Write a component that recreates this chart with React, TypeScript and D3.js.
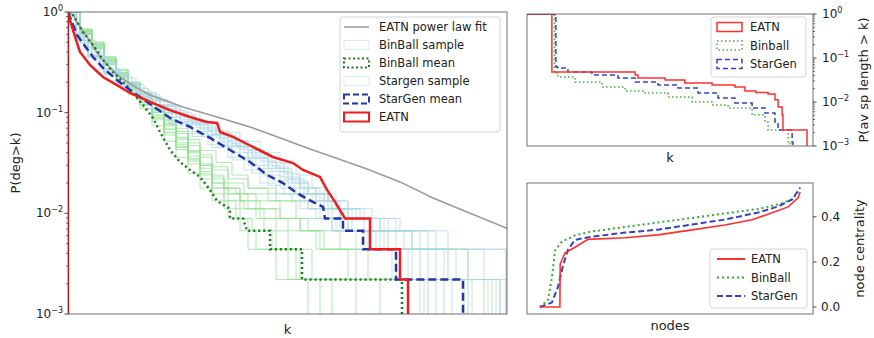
import * as d3 from 'd3';

type Pt = [number, number];

// ─────────────────────────────────────────────────────────────────────────────
// Left panel: degree distribution, P(deg > k)
// ─────────────────────────────────────────────────────────────────────────────

const powerLawFit: Pt[] = [
  [0, 1], [1.25, 0.934], [3, 0.71], [4.75, 0.565], [8, 0.357], [12.25, 0.237],
  [16.75, 0.18], [20.5, 0.15], [28.75, 0.114], [37.25, 0.0906], [45.5, 0.0721],
  [53.75, 0.0548], [60.5, 0.0436], [66.25, 0.0363], [74.75, 0.0276], [83, 0.0205],
  [91.25, 0.0142], [99.75, 0.0103], [109.75, 0.0071],
];

const eatnDegree: Pt[] = [
  [0, 1], [0.5, 0.833], [1.75, 0.565], [3, 0.401], [5.5, 0.298], [8.75, 0.226],
  [12.25, 0.188], [15.5, 0.157], [20.5, 0.128], [25.5, 0.106], [30.5, 0.0906],
  [34.75, 0.0809], [37.25, 0.0791], [38, 0.0643], [41.25, 0.0574], [46.25, 0.0456],
  [51.25, 0.0363], [56.25, 0.0316], [58.75, 0.027], [63, 0.023], [64.75, 0.0171],
  [66.75, 0.013], [69.25, 0.0089], [75.5, 0.0089], [75.5, 0.0044], [83, 0.0044],
  [83, 0.0022], [85, 0.0022], [85, 0.0005],
];

const binballMean: Pt[] = [
  [0, 1], [1.25, 0.934], [3.75, 0.633], [6.25, 0.47], [8.75, 0.334], [11.25, 0.254],
  [13.75, 0.202], [16.25, 0.157], [18.75, 0.119], [21.25, 0.0885], [23, 0.0643],
  [25.5, 0.0426], [28, 0.0324], [30.5, 0.027], [33, 0.023], [35.5, 0.0171],
  [37.25, 0.0133], [40.5, 0.0111], [40.5, 0.0089], [43.75, 0.0089], [44.75, 0.0067],
  [50.5, 0.0067], [50.5, 0.0044], [58.5, 0.0044], [58.5, 0.0022], [83.5, 0.0022],
  [83.5, 0.0005],
];

const stargenMean: Pt[] = [
  [0, 1], [1, 0.796], [2.25, 0.591], [4.25, 0.459], [6.25, 0.357], [8.75, 0.278],
  [12.25, 0.211], [15.5, 0.168], [20.5, 0.122], [25.5, 0.0885], [30.5, 0.0721],
  [35.5, 0.0561], [40.5, 0.0426], [45.5, 0.0324], [49.75, 0.0241], [53.75, 0.02],
  [57.25, 0.0159], [59.75, 0.0139], [63.75, 0.0116], [64.25, 0.0089], [68.75, 0.0089],
  [68.75, 0.0067], [73.75, 0.0067], [73.75, 0.0044], [82, 0.0044], [82, 0.0022],
  [98.75, 0.0022], [98.75, 0.0005],
];

const binballSamples: Pt[][] = [
  [[0, 1], [3, 0.68], [6, 0.5], [9, 0.36], [12, 0.27], [15, 0.2], [18, 0.155], [21, 0.12], [24, 0.09], [27, 0.07], [30, 0.054], [33, 0.042], [37, 0.032], [41, 0.024], [45, 0.0178], [50, 0.0156], [65, 0.0111], [70, 0.0067], [80, 0.0044], [95, 0.0022], [108, 0.0005]],
  [[0, 1], [3, 0.63], [6, 0.46], [9, 0.33], [12, 0.24], [15, 0.18], [18, 0.13], [21, 0.095], [24, 0.07], [27, 0.05], [30, 0.037], [33, 0.028], [36, 0.02], [40, 0.0156], [45, 0.0111], [52, 0.0089], [58, 0.0067], [64, 0.0044], [75, 0.0022], [85, 0.0005]],
  [[0, 1], [3, 0.6], [6, 0.43], [9, 0.3], [12, 0.21], [15, 0.15], [18, 0.11], [21, 0.075], [24, 0.052], [27, 0.036], [30, 0.025], [33, 0.0178], [36, 0.0133], [40, 0.0089], [45, 0.0044], [52, 0.0022], [60, 0.0005]],
  [[0, 1], [3, 0.65], [6, 0.48], [9, 0.34], [12, 0.25], [15, 0.19], [18, 0.14], [21, 0.105], [24, 0.078], [27, 0.057], [30, 0.042], [33, 0.031], [36, 0.024], [39, 0.0178], [43, 0.0133], [48, 0.0111], [53, 0.0089], [60, 0.0067], [68, 0.0044], [82, 0.0022], [100, 0.0005]],
  [[0, 1], [3, 0.62], [6, 0.45], [9, 0.32], [12, 0.23], [15, 0.17], [18, 0.125], [21, 0.09], [24, 0.063], [27, 0.045], [30, 0.033], [33, 0.024], [36, 0.0178], [40, 0.0133], [44, 0.0111], [49, 0.0067], [55, 0.0044], [61, 0.0022], [72, 0.0005]],
  [[0, 1], [3, 0.66], [6, 0.49], [9, 0.35], [12, 0.26], [15, 0.195], [18, 0.145], [21, 0.11], [24, 0.083], [27, 0.062], [30, 0.047], [33, 0.036], [36, 0.027], [40, 0.02], [44, 0.0156], [50, 0.0133], [57, 0.0089], [66, 0.0067], [74, 0.0044], [88, 0.0022], [104, 0.0005]],
  [[0, 1], [3, 0.61], [6, 0.44], [9, 0.31], [12, 0.22], [15, 0.16], [18, 0.12], [21, 0.085], [24, 0.06], [27, 0.043], [30, 0.031], [33, 0.022], [36, 0.0156], [39, 0.0111], [43, 0.0067], [47, 0.0044], [55, 0.0022], [66, 0.0005]],
  [[0, 1], [3, 0.64], [6, 0.47], [9, 0.335], [12, 0.245], [15, 0.185], [18, 0.135], [21, 0.1], [24, 0.074], [27, 0.054], [30, 0.04], [33, 0.03], [36, 0.022], [39, 0.0178], [43, 0.0133], [47, 0.0089], [55, 0.0067], [62, 0.0044], [70, 0.0022], [90, 0.0005]],
  [[0, 1], [3, 0.62], [6, 0.46], [9, 0.325], [12, 0.235], [15, 0.175], [18, 0.128], [21, 0.093], [24, 0.068], [27, 0.048], [30, 0.035], [33, 0.026], [36, 0.02], [39, 0.0156], [43, 0.0111], [48, 0.0089], [52, 0.0044], [58, 0.0022], [78, 0.0005]],
  [[0, 1], [3, 0.67], [6, 0.5], [9, 0.355], [12, 0.265], [15, 0.2], [18, 0.15], [21, 0.113], [24, 0.085], [27, 0.065], [30, 0.05], [33, 0.038], [36, 0.029], [40, 0.022], [45, 0.0178], [52, 0.0133], [60, 0.0111], [68, 0.0089], [78, 0.0067], [86, 0.0044], [100, 0.0022], [106, 0.0005]],
  [[0, 1], [3, 0.6], [6, 0.44], [9, 0.31], [12, 0.225], [15, 0.165], [18, 0.12], [21, 0.088], [24, 0.064], [27, 0.046], [30, 0.034], [33, 0.025], [36, 0.0178], [39, 0.0133], [42, 0.0089], [46, 0.0067], [51, 0.0044], [57, 0.0022], [63, 0.0005]],
  [[0, 1], [3, 0.65], [6, 0.475], [9, 0.34], [12, 0.25], [15, 0.185], [18, 0.138], [21, 0.102], [24, 0.076], [27, 0.056], [30, 0.041], [33, 0.03], [36, 0.023], [39, 0.0178], [42, 0.0156], [47, 0.0133], [53, 0.0089], [58, 0.0067], [63, 0.0044], [72, 0.0022], [94, 0.0005]],
];

const stargenSamples: Pt[][] = [
  [[0, 1], [2, 0.6], [5, 0.36], [9, 0.25], [13, 0.2], [18, 0.15], [23, 0.115], [28, 0.095], [33, 0.078], [38, 0.064], [43, 0.052], [48, 0.04], [53, 0.031], [57, 0.024], [61, 0.018], [64, 0.0133], [68, 0.0111], [72, 0.0089], [80, 0.0067], [92, 0.0044], [109.5, 0.0005]],
  [[0, 1], [2, 0.58], [4, 0.44], [8, 0.3], [12, 0.22], [17, 0.16], [22, 0.12], [27, 0.092], [32, 0.075], [37, 0.06], [42, 0.047], [47, 0.036], [52, 0.028], [56, 0.021], [60, 0.0156], [65, 0.0133], [70, 0.0089], [78, 0.0067], [88, 0.0044], [104, 0.0022], [108, 0.0005]],
  [[0, 1], [2, 0.55], [4, 0.42], [8, 0.27], [12, 0.2], [16, 0.15], [20, 0.11], [25, 0.08], [30, 0.062], [35, 0.048], [40, 0.036], [44, 0.027], [48, 0.02], [52, 0.0156], [56, 0.0133], [60, 0.0111], [63, 0.0089], [67, 0.0067], [75, 0.0044], [86, 0.0022], [92, 0.0005]],
  [[0, 1], [3, 0.5], [6, 0.36], [10, 0.25], [14, 0.19], [19, 0.14], [24, 0.105], [29, 0.082], [34, 0.066], [39, 0.05], [44, 0.04], [49, 0.03], [53, 0.023], [58, 0.0178], [62, 0.0133], [66, 0.0111], [71, 0.0089], [76, 0.0067], [84, 0.0044], [97, 0.0022], [101, 0.0005]],
  [[0, 1], [2, 0.62], [5, 0.4], [9, 0.27], [13, 0.2], [17, 0.16], [21, 0.13], [26, 0.1], [31, 0.08], [36, 0.062], [41, 0.049], [46, 0.038], [51, 0.029], [55, 0.022], [59, 0.0178], [63, 0.0133], [67, 0.0111], [73, 0.0089], [79, 0.0067], [86, 0.0044], [94, 0.0022], [109.5, 0.0005]],
  [[0, 1], [2, 0.52], [5, 0.36], [9, 0.24], [13, 0.18], [17, 0.135], [21, 0.1], [26, 0.075], [31, 0.058], [36, 0.045], [41, 0.034], [46, 0.025], [50, 0.019], [54, 0.0156], [58, 0.0111], [62, 0.0089], [66, 0.0067], [72, 0.0044], [81, 0.0022], [88, 0.0005]],
  [[0, 1], [3, 0.52], [7, 0.32], [11, 0.23], [15, 0.175], [20, 0.13], [25, 0.097], [30, 0.077], [35, 0.06], [40, 0.046], [45, 0.035], [50, 0.026], [55, 0.02], [60, 0.0156], [65, 0.0133], [70, 0.0111], [76, 0.0089], [83, 0.0067], [90, 0.0044], [100, 0.0022], [105, 0.0005]],
  [[0, 1], [2, 0.57], [5, 0.38], [9, 0.26], [13, 0.19], [18, 0.145], [23, 0.11], [28, 0.086], [33, 0.069], [38, 0.055], [43, 0.043], [48, 0.033], [52, 0.026], [56, 0.02], [60, 0.0156], [64, 0.0111], [69, 0.0089], [74, 0.0067], [82, 0.0044], [90, 0.0022], [96, 0.0005]],
  [[0, 1], [2, 0.6], [4, 0.45], [8, 0.31], [12, 0.23], [16, 0.175], [20, 0.135], [25, 0.104], [30, 0.083], [35, 0.066], [40, 0.053], [45, 0.042], [50, 0.032], [54, 0.025], [58, 0.0178], [62, 0.0156], [67, 0.0111], [74, 0.0089], [82, 0.0067], [95, 0.0044], [109.5, 0.0005]],
  [[0, 1], [3, 0.49], [6, 0.34], [10, 0.24], [14, 0.18], [18, 0.135], [23, 0.1], [28, 0.078], [33, 0.06], [38, 0.047], [43, 0.036], [47, 0.028], [51, 0.021], [55, 0.0178], [59, 0.0133], [63, 0.0111], [68, 0.0067], [77, 0.0044], [85, 0.0022], [99, 0.0005]],
  [[0, 1], [2, 0.56], [5, 0.37], [9, 0.255], [13, 0.195], [17, 0.155], [22, 0.118], [27, 0.09], [32, 0.071], [37, 0.057], [42, 0.045], [46, 0.036], [50, 0.028], [54, 0.022], [58, 0.0156], [62, 0.0133], [66, 0.0089], [71, 0.0067], [79, 0.0044], [92, 0.0022], [107, 0.0005]],
  [[0, 1], [2, 0.53], [5, 0.35], [9, 0.245], [13, 0.185], [17, 0.14], [21, 0.108], [26, 0.082], [31, 0.065], [36, 0.052], [41, 0.04], [45, 0.03], [49, 0.024], [53, 0.0178], [57, 0.0156], [61, 0.0111], [65, 0.0089], [70, 0.0067], [78, 0.0044], [83, 0.0022], [89, 0.0005]],
];

// ─────────────────────────────────────────────────────────────────────────────
// Top right: P(av sp length > k)
// ─────────────────────────────────────────────────────────────────────────────

const eatnPathLen: Pt[] = [
  [0, 1], [8.7, 0.048], [37.8, 0.041], [38.8, 0.035], [48.3, 0.0316], [55.2, 0.027],
  [64.7, 0.0243], [72.7, 0.022], [76.2, 0.0178], [80, 0.0165], [84.3, 0.0152],
  [86.7, 0.0112], [87.8, 0.0077], [89.2, 0.0051], [89.5, 0.0023], [97.9, 0.0005],
];

const binballPathLen: Pt[] = [
  [0, 1], [9.6, 0.0456], [10.8, 0.037], [16.8, 0.0285], [26.2, 0.022], [34.3, 0.0178],
  [41.3, 0.016], [49.3, 0.013], [57.7, 0.01], [64.7, 0.0086], [70.3, 0.0073],
  [78.7, 0.0051], [83.2, 0.0035], [84.3, 0.0023], [91.3, 0.0012], [92, 0.0005],
];

const stargenPathLen: Pt[] = [
  [0, 1], [10.1, 0.0624], [10.8, 0.059], [14.3, 0.048], [22.7, 0.041], [31.8, 0.035],
  [37.8, 0.0285], [45.8, 0.0243], [52.8, 0.0208], [59.8, 0.0161], [66.8, 0.0123],
  [72.7, 0.0095], [78.7, 0.0073], [83.2, 0.0056], [86.7, 0.0035], [87.8, 0.0023],
  [92.7, 0.0012], [93, 0.0005],
];

// ─────────────────────────────────────────────────────────────────────────────
// Bottom right: sorted node centrality
// ─────────────────────────────────────────────────────────────────────────────

const eatnCentrality: Pt[] = [
  [4.5, 0], [11.5, 0], [11.6, 0.19], [13.3, 0.24], [16.8, 0.265], [21.3, 0.3],
  [34.3, 0.307], [45.8, 0.32], [57.7, 0.342], [69.2, 0.364], [78.7, 0.387],
  [85.7, 0.418], [91.3, 0.444], [94.8, 0.484], [95.5, 0.51],
];

const binballCentrality: Pt[] = [
  [4.5, 0], [7.3, 0.03], [8.7, 0.13], [9.8, 0.25], [12.2, 0.29], [16.8, 0.318],
  [22.7, 0.335], [34.3, 0.355], [45.8, 0.375], [57.7, 0.395], [69.2, 0.415],
  [80.8, 0.435], [87.8, 0.455], [92.7, 0.477], [94.8, 0.51],
];

const stargenCentrality: Pt[] = [
  [4.5, 0], [8.7, 0.02], [10.8, 0.088], [12.5, 0.178], [14.3, 0.254], [16.8, 0.298],
  [22.7, 0.312], [34.3, 0.33], [45.8, 0.343], [57.7, 0.366], [69.2, 0.388],
  [80.8, 0.419], [87.8, 0.446], [92.7, 0.477], [95.5, 0.53],
];

const degreeLegend = ['EATN power law fit', 'BinBall sample', 'BinBall mean', 'Stargen sample', 'StarGen mean', 'EATN'];
const pathLegend = ['EATN', 'Binball', 'StarGen'];
const centralityLegend = ['EATN', 'BinBall', 'StarGen'];
const logMajor = [1, 0.1, 0.01, 0.001];
const logExponents = ['0', '\u22121', '\u22122', '\u22123'];
const centralityTicks = [0, 0.2, 0.4];

const FONT = "'DejaVu Sans', sans-serif";
const RED = '#ee1c1c';
const SAMPLE_GREEN = '#8fe08f';
const SAMPLE_BLUE = '#a9d6e4';

// ─────────────────────────────────────────────────────────────────────────────

function LogAxis({ scale, x, side }: { scale: d3.ScaleLogarithmic<number, number>; x: number; side: 'left' | 'right' }) {
  const dir = side === 'left' ? -1 : 1;
  const minor = scale.ticks().filter((t) => Math.abs(Math.log10(t) - Math.round(Math.log10(t))) > 1e-6);
  return (
    <g>
      {minor.map((t, i) => (
        <line key={i} x1={x} x2={x + dir * 2} y1={scale(t)} y2={scale(t)} stroke='#333' strokeWidth={0.7} />
      ))}
      {logMajor.map((t, i) => (
        <g key={t}>
          <line x1={x} x2={x + dir * 3.5} y1={scale(t)} y2={scale(t)} stroke='#333' strokeWidth={0.9} />
          <text
            x={side === 'left' ? x - 5 : x + 9}
            y={scale(t) + 4}
            textAnchor={side === 'left' ? 'end' : 'start'}
            fontSize={12}
            fill='#222'
          >
            10<tspan dy={-5} fontSize={8}>{logExponents[i]}</tspan>
          </text>
        </g>
      ))}
    </g>
  );
}

export default function App() {
  // left panel scales
  const xDeg = d3.scaleLinear().domain([0, 109.75]).range([68, 507]);
  const yDeg = d3.scaleLog().domain([1e-3, 1]).range([314, 12]);
  // top right
  const xSp = d3.scaleLinear().domain([0, 100]).range([527, 813]);
  const ySp = d3.scaleLog().domain([1e-3, 1]).range([146, 14]);
  // bottom right
  const xNode = d3.scaleLinear().domain([0, 100]).range([527, 813]);
  const yCent = d3.scaleLinear().domain([-0.031, 0.55]).range([314, 183]);

  const degLine = d3.line<Pt>().x((d) => xDeg(d[0])).y((d) => yDeg(d[1]));
  const degStep = d3.line<Pt>().x((d) => xDeg(d[0])).y((d) => yDeg(d[1])).curve(d3.curveStepAfter);
  const spStep = d3.line<Pt>().x((d) => xSp(d[0])).y((d) => ySp(d[1])).curve(d3.curveStepAfter);
  const centLine = d3.line<Pt>().x((d) => xNode(d[0])).y((d) => yCent(d[1]));

  // hist outline starts at the baseline
  const eatnOutline: Pt[] = [[0, 0.0005], ...eatnDegree];

  const [xd0, xd1] = xDeg.range();
  const [yd1, yd0] = yDeg.range();
  const [xs0, xs1] = xSp.range();
  const [ys1, ys0] = ySp.range();
  const [yc1, yc0] = yCent.range();

  return (
    <svg
      width={874}
      height={338}
      style={{ position: 'absolute', left: 0, top: 0, fontFamily: FONT }}
    >
      <rect width={874} height={338} fill='#fff' />
      <defs>
        <clipPath id='clipDeg'>
          <rect x={xd0} y={yd0} width={xd1 - xd0} height={yd1 - yd0} />
        </clipPath>
        <clipPath id='clipSp'>
          <rect x={xs0} y={ys0} width={xs1 - xs0} height={ys1 - ys0} />
        </clipPath>
        <clipPath id='clipCent'>
          <rect x={xs0} y={yc0} width={xs1 - xs0} height={yc1 - yc0} />
        </clipPath>
      </defs>

      {/* ── Left panel ── */}
      <g clipPath='url(#clipDeg)'>
        {binballSamples.map((s, i) => (
          <path key={'g' + i} d={degStep(s) ?? ''} fill='none' stroke={SAMPLE_GREEN} strokeOpacity={0.7} strokeWidth={1} />
        ))}
        {stargenSamples.map((s, i) => (
          <path key={'b' + i} d={degStep(s) ?? ''} fill='none' stroke={SAMPLE_BLUE} strokeOpacity={0.7} strokeWidth={1} />
        ))}
        <path d={degLine(powerLawFit) ?? ''} fill='none' stroke='#9a9a9a' strokeWidth={1.5} />
        <path d={degLine(binballMean) ?? ''} fill='none' stroke='#1d7a1d' strokeWidth={2.5} strokeDasharray='2,3' />
        <path d={degLine(stargenMean) ?? ''} fill='none' stroke='#2434a8' strokeWidth={2.5} strokeDasharray='8,4' />
        <path d={degLine(eatnOutline) ?? ''} fill='none' stroke={RED} strokeWidth={2.5} />
      </g>
      <rect x={xd0} y={yd0} width={xd1 - xd0} height={yd1 - yd0} fill='none' stroke='#333' strokeOpacity={0.7} strokeWidth={1} />
      <LogAxis scale={yDeg} x={xd0} side='left' />
      <text x={(xd0 + xd1) / 2} y={334} textAnchor='middle' fontSize={13} fill='#222'>k</text>
      <text transform={`translate(20,${(yd0 + yd1) / 2}) rotate(-90)`} textAnchor='middle' fontSize={13} fill='#222'>
        P(deg&gt;k)
      </text>

      {/* left legend */}
      <g>
        <rect x={340} y={17} width={160} height={115} rx={3} fill='#fff' fillOpacity={0.85} stroke='#d4d4d4' />
        {degreeLegend.map((label, i) => {
          const y = 27 + i * 18;
          let handle;
          if (i === 0) handle = <line x1={344} x2={369} y1={y} y2={y} stroke='#9a9a9a' strokeWidth={1.5} />;
          else if (i === 1 || i === 3)
            handle = <rect x={344} y={y - 4.5} width={25} height={9} fill='none' stroke={SAMPLE_BLUE} strokeOpacity={0.45} />;
          else if (i === 2)
            handle = <rect x={344} y={y - 4.5} width={25} height={9} fill='none' stroke='#1d7a1d' strokeWidth={2} strokeDasharray='2,2.5' />;
          else if (i === 4)
            handle = <rect x={344} y={y - 4.5} width={25} height={9} fill='none' stroke='#2434a8' strokeWidth={2} strokeDasharray='6,3' />;
          else handle = <rect x={344} y={y - 4.5} width={25} height={9} fill='none' stroke={RED} strokeWidth={2} />;
          return (
            <g key={label}>
              {handle}
              <text x={379} y={y + 4} fontSize={11.5} fill='#222'>{label}</text>
            </g>
          );
        })}
      </g>

      {/* ── Top right panel ── */}
      <g clipPath='url(#clipSp)'>
        <path d={spStep(binballPathLen) ?? ''} fill='none' stroke='#3cb33c' strokeWidth={1.5} strokeDasharray='1.5,2.5' />
        <path d={spStep(stargenPathLen) ?? ''} fill='none' stroke='#3344cc' strokeWidth={1.5} strokeDasharray='5,3' />
        <path d={spStep(eatnPathLen) ?? ''} fill='none' stroke='#ff3030' strokeWidth={1.5} />
      </g>
      <rect x={xs0} y={ys0} width={xs1 - xs0} height={ys1 - ys0} fill='none' stroke='#333' strokeOpacity={0.7} strokeWidth={1} />
      <LogAxis scale={ySp} x={xs1} side='right' />
      <text x={(xs0 + xs1) / 2} y={162} textAnchor='middle' fontSize={13} fill='#222'>k</text>
      <text transform={`translate(868,${(ys0 + ys1) / 2}) rotate(-90)`} textAnchor='middle' fontSize={13} fill='#222'>
        P(av sp length &gt; k)
      </text>
      <g>
        <rect x={711} y={17} width={95} height={60} rx={3} fill='#fff' fillOpacity={0.85} stroke='#d4d4d4' />
        {pathLegend.map((label, i) => {
          const y = 27 + i * 18.5;
          const stroke = ['#ff3030', '#3cb33c', '#3344cc'][i];
          const dash = ['', '1.5,2.5', '5,3'][i];
          return (
            <g key={label}>
              <rect x={717} y={y - 4.5} width={25} height={9} fill='none' stroke={stroke} strokeWidth={1.5} strokeDasharray={dash} />
              <text x={750} y={y + 4} fontSize={11.5} fill='#222'>{label}</text>
            </g>
          );
        })}
      </g>

      {/* ── Bottom right panel ── */}
      <g clipPath='url(#clipCent)'>
        <path d={centLine(binballCentrality) ?? ''} fill='none' stroke='#2fae2f' strokeWidth={2} strokeDasharray='2,3' />
        <path d={centLine(stargenCentrality) ?? ''} fill='none' stroke='#3344cc' strokeWidth={2} strokeDasharray='6,3' />
        <path d={centLine(eatnCentrality) ?? ''} fill='none' stroke='#ff3030' strokeWidth={1.6} />
      </g>
      <rect x={xs0} y={yc0} width={xs1 - xs0} height={yc1 - yc0} fill='none' stroke='#333' strokeOpacity={0.7} strokeWidth={1} />
      {centralityTicks.map((t) => (
        <g key={t}>
          <line x1={xs1} x2={xs1 + 3.5} y1={yCent(t)} y2={yCent(t)} stroke='#333' strokeWidth={0.9} />
          <text x={xs1 + 8} y={yCent(t) + 4} fontSize={12} fill='#222'>{t.toFixed(1)}</text>
        </g>
      ))}
      <text x={(xs0 + xs1) / 2} y={330} textAnchor='middle' fontSize={13} fill='#222'>nodes</text>
      <text transform={`translate(864,${(yc0 + yc1) / 2}) rotate(-90)`} textAnchor='middle' fontSize={13} fill='#222'>
        node centrality
      </text>
      <g>
        <rect x={710} y={249} width={97} height={59} rx={3} fill='#fff' fillOpacity={0.85} stroke='#d4d4d4' />
        {centralityLegend.map((label, i) => {
          const y = 259 + i * 18.5;
          const stroke = ['#ff3030', '#2fae2f', '#3344cc'][i];
          const dash = ['', '2,3', '6,3'][i];
          return (
            <g key={label}>
              <line x1={717} x2={745} y1={y} y2={y} stroke={stroke} strokeWidth={2} strokeDasharray={dash} />
              <text x={751} y={y + 4} fontSize={11.5} fill='#222'>{label}</text>
            </g>
          );
        })}
      </g>
    </svg>
  );
}
